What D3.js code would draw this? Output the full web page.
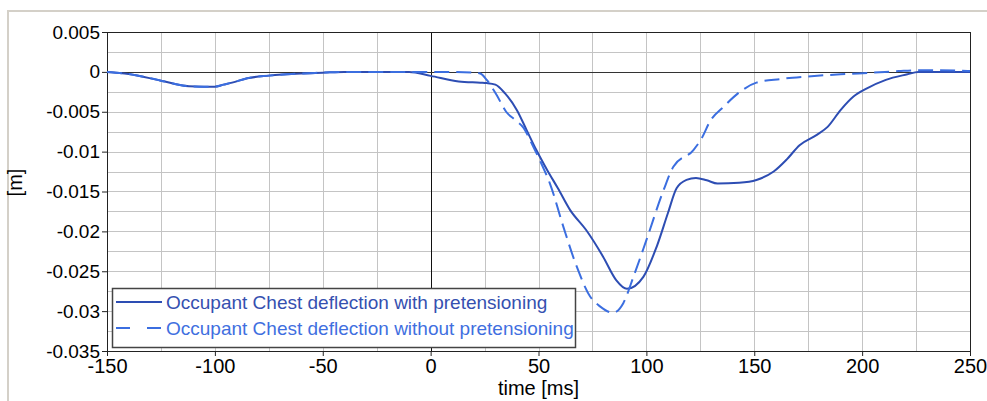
<!DOCTYPE html>
<html>
<head>
<meta charset="utf-8">
<script src="https://cdn.jsdelivr.net/npm/d3@7"></script>
<style>
    body { margin: 0; background: #fff; }
    #chart { width: 987px; height: 401px; }
    text { font-family: Arial, "Liberation Sans", sans-serif; }
</style>
</head>
<body>
<div id="chart"></div>
<script>
// time [ms] and deflection [m]
const timeWith = [-150, -140, -125, -112, -105, -100, -96, -92, -85, -75, -60, -50, -40, -10, 0, 13, 23, 26, 30, 34.5, 40, 44.5, 49, 54, 59, 64.6, 72, 80, 86, 91, 98.6, 104.8, 110, 114, 118.6, 123, 128, 133, 143, 151, 159, 165, 171, 179, 184, 190, 196, 202, 211, 221, 226, 250];
const valWith = [0, -0.00026, -0.0011, -0.0018, -0.00185, -0.00185, -0.0016, -0.00135, -0.0008, -0.00047, -0.0002, -0.0001, 0, 0, -0.0005, -0.0012, -0.00135, -0.0014, -0.0016, -0.0027, -0.0048, -0.0073, -0.0098, -0.0123, -0.0146, -0.0173, -0.0198, -0.0232, -0.0261, -0.0272, -0.0257, -0.0219, -0.0177, -0.0146, -0.01355, -0.0133, -0.0136, -0.014, -0.0139, -0.01355, -0.0125, -0.011, -0.0092, -0.0079, -0.0069, -0.0048, -0.0031, -0.0021, -0.001, -0.0003, 0, 0];

const timeWithout = [-150, -140, -125, -112, -105, -100, -96, -92, -85, -75, -60, -50, -40, -10, 0, 10, 20, 23, 26, 30.6, 35, 39, 43, 47.6, 52, 55.3, 61.5, 67.7, 74, 78.5, 84.7, 89.3, 94, 100, 108, 112.5, 121.8, 125.7, 129.5, 135.7, 143.4, 151, 162, 174, 190, 205, 217, 225, 236, 250];
const valWithout = [0, -0.00026, -0.0011, -0.0018, -0.00185, -0.00185, -0.0016, -0.00135, -0.0008, -0.00047, -0.0002, -0.0001, 0, 0, 0, 0, -0.0001, -0.0002, -0.001, -0.0029, -0.005, -0.006, -0.007, -0.0094, -0.0119, -0.014, -0.0194, -0.0244, -0.0282, -0.0294, -0.0302, -0.029, -0.0257, -0.0211, -0.0148, -0.0119, -0.0098, -0.0083, -0.0062, -0.0044, -0.0025, -0.00135, -0.0009, -0.0006, -0.0003, -0.0001, 0.0001, 0.0002, 0.0002, 0.0001];

const xTicks = [-150, -100, -50, 0, 50, 100, 150, 200, 250];
const yTicks = [0.005, 0, -0.005, -0.01, -0.015, -0.02, -0.025, -0.03, -0.035];
const yTickLabels = ["0.005", "0", "-0.005", "-0.01", "-0.015", "-0.02", "-0.025", "-0.03", "-0.035"];
const xGrid = d3.range(-150, 251, 25);
const yGrid = d3.range(0, 17).map(i => 0.005 - i * 0.0025);
const seriesNames = ["Occupant Chest deflection with pretensioning", "Occupant Chest deflection without pretensioning"];

const colWith = "#2d4db3";
const colWithout = "#3b6ee0";

const width = 987, height = 401;
const margin = { top: 32, right: 17, bottom: 50, left: 107 };
const chartWidth = width - margin.left - margin.right;
const chartHeight = height - margin.top - margin.bottom;

const root = d3.select("#chart").append("svg")
    .attr("width", width)
    .attr("height", height);

// outer panel frame (only top / left edges visible)
root.append("path")
    .attr("d", `M8,${height} V11 H${width}`)
    .style("fill", "none")
    .style("stroke", "#d4d0c8")
    .style("stroke-width", 2);

const svg = root.append("g")
    .attr("transform", `translate(${margin.left},${margin.top})`);

const x = d3.scaleLinear().domain([-150, 250]).range([0, chartWidth]);
const y = d3.scaleLinear().domain([0.005, -0.035]).range([0, chartHeight]);

// Grid
svg.selectAll(".vgrid")
    .data(xGrid)
    .enter()
    .append("line")
    .attr("x1", d => Math.round(x(d)) + 0.5)
    .attr("x2", d => Math.round(x(d)) + 0.5)
    .attr("y1", 0)
    .attr("y2", chartHeight)
    .style("stroke", "#c4c4c4")
    .style("stroke-width", 1);

svg.selectAll(".hgrid")
    .data(yGrid)
    .enter()
    .append("line")
    .attr("x1", 0)
    .attr("x2", chartWidth)
    .attr("y1", d => Math.round(y(d)) + 0.5)
    .attr("y2", d => Math.round(y(d)) + 0.5)
    .style("stroke", "#c4c4c4")
    .style("stroke-width", 1);

// zero lines
svg.append("line")
    .attr("x1", Math.round(x(0)) + 0.5).attr("x2", Math.round(x(0)) + 0.5)
    .attr("y1", 0).attr("y2", chartHeight)
    .style("stroke", "#111");
svg.append("line")
    .attr("x1", 0).attr("x2", chartWidth)
    .attr("y1", Math.round(y(0)) + 0.5).attr("y2", Math.round(y(0)) + 0.5)
    .style("stroke", "#333");

// plot border
svg.append("rect")
    .attr("x", 0.5).attr("y", 0.5)
    .attr("width", chartWidth).attr("height", chartHeight)
    .style("fill", "none")
    .style("stroke", "#222");

// Axes
const xAxis = svg.append("g")
    .attr("transform", `translate(0,${chartHeight})`)
    .call(d3.axisBottom(x).tickValues(xTicks).tickSize(5).tickSizeOuter(0).tickPadding(3).tickFormat(d => d));
const yAxis = svg.append("g")
    .call(d3.axisLeft(y).tickValues(yTicks).tickSize(5).tickSizeOuter(0).tickPadding(2)
        .tickFormat((d, i) => yTickLabels[i]));

[xAxis, yAxis].forEach(a => {
    a.select(".domain").style("stroke", "#222");
    a.selectAll(".tick line").style("stroke", "#222");
    a.selectAll(".tick text")
        .style("font-family", "Arial, 'Liberation Sans', sans-serif")
        .style("fill", "#000");
});
xAxis.selectAll(".tick text").style("font-size", "20px");
yAxis.selectAll(".tick text").style("font-size", "19px");

// axis titles
svg.append("text")
    .attr("x", chartWidth / 2)
    .attr("y", chartHeight + 44)
    .attr("text-anchor", "middle")
    .style("font-size", "20px")
    .text("time [ms]");

svg.append("text")
    .attr("transform", `translate(${-margin.left + 22},${chartHeight / 2 - 9}) rotate(-90)`)
    .attr("text-anchor", "middle")
    .style("font-size", "20px")
    .text("[m]");

// Curves
const line = d3.line()
    .x(d => x(d[0]))
    .y(d => y(d[1]))
    .curve(d3.curveMonotoneX);

svg.append("path")
    .datum(timeWith.map((t, i) => [t, valWith[i]]))
    .attr("d", line)
    .style("fill", "none")
    .style("stroke", colWith)
    .style("stroke-width", 2);

svg.append("path")
    .datum(timeWithout.map((t, i) => [t, valWithout[i]]))
    .attr("d", line)
    .style("fill", "none")
    .style("stroke", colWithout)
    .style("stroke-width", 2)
    .style("stroke-dasharray", "15,7");

// Legend
const legend = svg.append("g")
    .attr("transform", `translate(${5},${256})`);

legend.append("rect")
    .attr("x", 0.5).attr("y", 0.5)
    .attr("width", 463).attr("height", 59)
    .style("fill", "#fff")
    .style("stroke", "#444")
    .style("stroke-width", 1.5);

const legendItems = legend.selectAll(".legend-item")
    .data(seriesNames)
    .enter()
    .append("g")
    .attr("transform", (d, i) => `translate(0,${14 + i * 26})`);

legendItems.append("line")
    .attr("x1", 4).attr("x2", 50)
    .attr("y1", 0).attr("y2", 0)
    .style("stroke", (d, i) => i === 0 ? colWith : colWithout)
    .style("stroke-width", 2)
    .style("stroke-dasharray", (d, i) => i === 0 ? null : "14,17");

legendItems.append("text")
    .attr("x", 54)
    .attr("dy", "0.35em")
    .style("font-size", "19px")
    .style("fill", (d, i) => i === 0 ? "#3550b0" : "#3f6fe0")
    .text(d => d);
</script>
</body>
</html>
